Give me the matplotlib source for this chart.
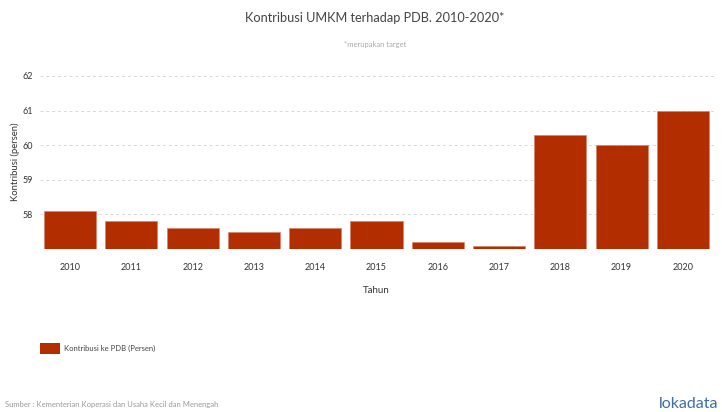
import matplotlib
matplotlib.use("Agg")
import matplotlib.pyplot as plt
from matplotlib.patches import Rectangle

# Data
years = ["2010", "2011", "2012", "2013", "2014", "2015", "2016", "2017", "2018", "2019", "2020"]
kontribusi = [58.1, 57.8, 57.6, 57.5, 57.6, 57.8, 57.2, 57.1, 60.3, 60.0, 61.0]
yticks = [58, 59, 60, 61, 62]

bar_color = "#b22e00"
plt.rcParams['font.family'] = ['Lato', 'DejaVu Sans']

fig = plt.figure(figsize=(7.22, 4.12), dpi=100)
W, H = 722, 412
ax = fig.add_axes([39.5 / W, 1 - 249 / H, (713.5 - 39.5) / W, (249 - 76) / H])

x = list(range(len(years)))
ax.bar(x, [v - 57 for v in kontribusi], bottom=57, width=0.85, color=bar_color,
       edgecolor="#d9826a", linewidth=0.5, zorder=3)

ax.set_xlim(-0.5, len(years) - 0.5)
ax.set_ylim(57, 62)
ax.set_yticks([57] + yticks)
ax.set_yticklabels([""] + [str(t) for t in yticks])
ax.set_xticks(x)
ax.set_xticklabels(years)
ax.tick_params(axis="both", length=0, labelsize=6.5, colors="#333333")
ax.tick_params(axis="x", pad=10)
ax.tick_params(axis="y", pad=4.5)
ax.grid(axis="y", color="#d8d8d8", linestyle=(0, (3, 3)), linewidth=0.7, zorder=0)
for s in ax.spines.values():
    s.set_visible(False)

ax.set_xlabel("Tahun", fontsize=7, color="#333333", labelpad=10)
fig.text(15 / W, 1 - 162 / H, "Kontribusi (persen)", rotation=90, ha="center", va="center",
         fontsize=6.8, color="#333333")

fig.text(375 / W, 1 - 18 / H, "Kontribusi UMKM terhadap PDB. 2010-2020*", ha="center",
         va="center", fontsize=9.2, color="#444444")
fig.text(375 / W, 1 - 44 / H, "*merupakan target", ha="center", va="center",
         fontsize=5.5, color="#aaaaaa")

# legend
fig.patches.append(Rectangle((40 / W, 1 - 354 / H), 20 / W, 11 / H, transform=fig.transFigure,
                             facecolor=bar_color, edgecolor="none"))
fig.text(64 / W, 1 - 348.5 / H, "Kontribusi ke PDB (Persen)", ha="left", va="center",
         fontsize=5.5, color="#444444")

fig.text(5 / W, 1 - 404 / H, "Sumber : Kementerian Koperasi dan Usaha Kecil dan Menengah",
         ha="left", va="center", fontsize=5.5, color="#999999")
fig.text(718 / W, 1 - 404 / H, "lokadata", ha="right", va="center", fontsize=11.5,
         color="#3a6db0")

fig.savefig("out.png", dpi=100)
